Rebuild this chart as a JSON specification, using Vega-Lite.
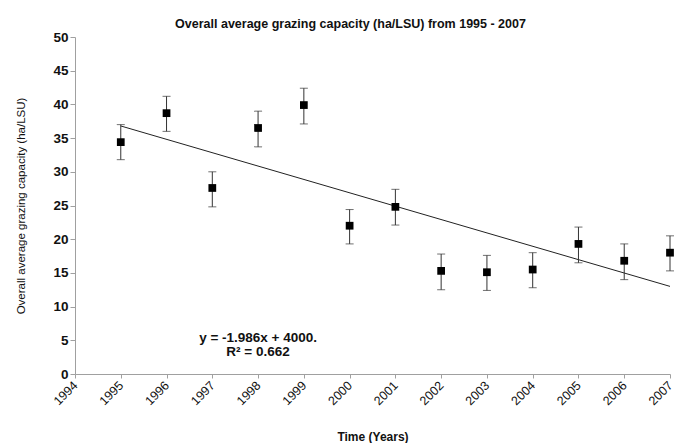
{
  "$schema": "https://vega.github.io/schema/vega-lite/v6.json",
  "autosize": {"type": "none"},
  "width": 595,
  "height": 337,
  "padding": {"left": 75, "top": 37, "right": 12, "bottom": 69},
  "background": "white",
  "config": {
    "view": {"stroke": null},
    "font": "Liberation Sans",
    "axis": {"grid": false, "domainColor": "#a0a0a0", "tickColor": "#a0a0a0", "labelColor": "#111", "titleColor": "#111"}
  },
  "title": {
    "text": "Overall average grazing capacity (ha/LSU) from 1995 - 2007",
    "fontSize": 12.5,
    "fontWeight": "bold",
    "font": "Liberation Sans",
    "color": "#111",
    "anchor": "middle",
    "dx": -22,
    "offset": 0
  },
  "datasets": {
    "points": [
      {"year": 1995, "value": 34.4, "lo": 31.8, "hi": 37.0},
      {"year": 1996, "value": 38.7, "lo": 36.0, "hi": 41.2},
      {"year": 1997, "value": 27.6, "lo": 24.8, "hi": 30.0},
      {"year": 1998, "value": 36.5, "lo": 33.7, "hi": 39.0},
      {"year": 1999, "value": 39.9, "lo": 37.1, "hi": 42.4},
      {"year": 2000, "value": 22.0, "lo": 19.3, "hi": 24.4},
      {"year": 2001, "value": 24.8, "lo": 22.1, "hi": 27.4},
      {"year": 2002, "value": 15.3, "lo": 12.5, "hi": 17.8},
      {"year": 2003, "value": 15.1, "lo": 12.4, "hi": 17.6},
      {"year": 2004, "value": 15.5, "lo": 12.8, "hi": 18.0},
      {"year": 2005, "value": 19.3, "lo": 16.5, "hi": 21.8},
      {"year": 2006, "value": 16.8, "lo": 14.0, "hi": 19.3},
      {"year": 2007, "value": 18.0, "lo": 15.3, "hi": 20.5}
    ],
    "trend": [
      {"year": 1995, "value": 36.8},
      {"year": 2007, "value": 13.0}
    ],
    "labels": [
      {"year": 1998.0, "value": 5.4, "label": "y = -1.986x + 4000."},
      {"year": 1998.0, "value": 3.2, "label": "R² = 0.662"}
    ]
  },
  "encoding": {
    "x": {
      "field": "year", "type": "quantitative",
      "scale": {"domain": [1994, 2007], "nice": false, "zero": false},
      "axis": {
        "title": "Time (Years)", "titleFontSize": 12, "titleFontWeight": "bold", "titlePadding": 24,
        "values": [1994,1995,1996,1997,1998,1999,2000,2001,2002,2003,2004,2005,2006,2007],
        "format": "d", "labelAngle": -45, "labelAlign": "right", "labelBaseline": "middle",
        "labelFontSize": 12.5, "tickSize": 4, "labelPadding": 5
      }
    },
    "y": {
      "field": "value", "type": "quantitative",
      "scale": {"domain": [0, 50], "nice": false},
      "axis": {
        "title": "Overall average grazing capacity (ha/LSU)", "titleFontSize": 11.5, "titleFontWeight": "normal",
        "values": [0,5,10,15,20,25,30,35,40,45,50],
        "labelFontSize": 13.5, "labelFontWeight": "bold", "tickSize": 5, "titlePadding": 26
      }
    }
  },
  "layer": [
    {
      "data": {"name": "trend"},
      "mark": {"type": "line", "color": "#222", "strokeWidth": 1}
    },
    {
      "data": {"name": "points"},
      "mark": {"type": "rule", "color": "#333", "strokeWidth": 1},
      "encoding": {"y": {"field": "lo", "type": "quantitative"}, "y2": {"field": "hi"}}
    },
    {
      "data": {"name": "points"},
      "mark": {"type": "tick", "orient": "horizontal", "color": "#333", "size": 8, "thickness": 1},
      "encoding": {"y": {"field": "lo", "type": "quantitative"}}
    },
    {
      "data": {"name": "points"},
      "mark": {"type": "tick", "orient": "horizontal", "color": "#333", "size": 8, "thickness": 1},
      "encoding": {"y": {"field": "hi", "type": "quantitative"}}
    },
    {
      "data": {"name": "points"},
      "mark": {"type": "square", "color": "#000", "size": 60, "opacity": 1, "filled": true}
    },
    {
      "data": {"name": "labels"},
      "mark": {"type": "text", "fontSize": 13.5, "fontWeight": "bold", "color": "#111", "align": "center", "baseline": "middle"},
      "encoding": {"text": {"field": "label"}}
    }
  ]
}
